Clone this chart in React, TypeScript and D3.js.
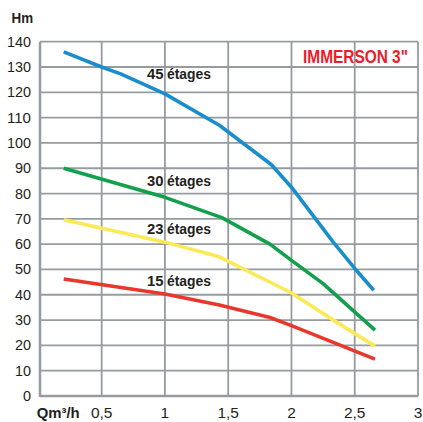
import React from "react";
import * as d3 from "d3";

const xTicks = [0.5, 1, 1.5, 2, 2.5, 3];
const xTickLabels = ["0,5", "1", "1,5", "2", "2,5", "3"];
const yTicks = [0, 10, 20, 30, 40, 50, 60, 70, 80, 90, 100, 110, 120, 130, 140];

const series45 = [[0.2, 136], [0.5, 130], [0.65, 127.3], [1.0, 119.4], [1.43, 107], [1.84, 91.5], [2.0, 82.5], [2.18, 70.7], [2.33, 60.8], [2.5, 50.4], [2.65, 41.8]];
const series30 = [[0.2, 90], [1.0, 78.5], [1.45, 70.5], [1.83, 60], [2.0, 53.6], [2.25, 44.4], [2.66, 26]];
const series23 = [[0.2, 69.6], [1.0, 60.8], [1.43, 55], [1.99, 41], [2.33, 30], [2.66, 19.7]];
const series15 = [[0.2, 46.2], [1.0, 40.3], [1.43, 36], [1.83, 31], [1.99, 28], [2.66, 14.6]];

const seriesNames = ["45", "30", "23", "15"];
const seriesColors = ["#1a8dcb", "#12a04c", "#fbea55", "#e8372c"];
const seriesData = [series45, series30, series23, series15];
const labelY = [125.4, 82.8, 64.2, 43.4];

const W = 423, H = 422;
const left = 40, right = 418, top = 41.7, bottom = 396;
const font = "'Liberation Sans', Arial, sans-serif";

export default function App() {
  const x = d3.scaleLinear().domain([0, 3]).range([38.4, right]);
  const y = d3.scaleLinear().domain([0, 140]).range([bottom, top]);
  const line = d3.line<number[]>().x(d => x(d[0])).y(d => y(d[1]));
  const grid = "#969ba0";
  return (
    <svg width={W} height={H} style={{ position: "absolute", left: 0, top: 0, background: "#fff" }}>
      {yTicks.map(t => (
        <line key={"gy" + t} x1={left} x2={right} y1={y(t)} y2={y(t)} stroke={grid} strokeWidth={t === 0 ? 2.5 : 1.8} />
      ))}
      {xTicks.map(t => (
        <line key={"gx" + t} x1={x(t)} x2={x(t)} y1={top} y2={bottom} stroke={grid} strokeWidth={1.8} />
      ))}
      <line x1={left} x2={left} y1={top} y2={bottom + 1} stroke={grid} strokeWidth={2.5} />
      {yTicks.map(t => (
        <text key={"ty" + t} x={31} y={y(t) + 5} textAnchor="end" fontFamily={font} fontSize={15.5} fill="#231f20" textLength={String(t).length * 8} lengthAdjust="spacingAndGlyphs">{t}</text>
      ))}
      {xTicks.map((t, i) => (
        <text key={"tx" + t} x={x(t)} y={417.5} textAnchor="middle" fontFamily={font} fontSize={15.5} fill="#231f20">{xTickLabels[i]}</text>
      ))}
      <text x={11.5} y={22.7} fontFamily={font} fontSize={14} fontWeight="bold" fill="#231f20" textLength={21.6} lengthAdjust="spacingAndGlyphs">Hm</text>
      <text x={36.7} y={417.5} fontFamily={font} fontSize={14.5} fontWeight="bold" fill="#231f20" textLength={43} lengthAdjust="spacingAndGlyphs">Qm³/h</text>
      <text x={303} y={62.5} fontFamily={font} fontSize={18.5} fontWeight="bold" fill="#ec1c2a" textLength={105} lengthAdjust="spacingAndGlyphs">IMMERSON 3"</text>
      {seriesData.map((s, i) => (
        <path key={"s" + i} d={line(s as number[][]) || ""} fill="none" stroke={seriesColors[i]} strokeWidth={3.6} strokeLinejoin="round" />
      ))}
      {seriesNames.map((n, i) => (
        <g key={"l" + n}>
          <text x={x(1) - 1.5} y={y(labelY[i])} textAnchor="end" fontFamily={font} fontSize={14.5} fontWeight="bold" fill="#231f20" textLength={16.5} lengthAdjust="spacingAndGlyphs">{n}</text>
          <text x={x(1) + 2} y={y(labelY[i])} textAnchor="start" fontFamily={font} fontSize={14.5} fontWeight="bold" fill="#231f20" textLength={44} lengthAdjust="spacingAndGlyphs">étages</text>
        </g>
      ))}
    </svg>
  );
}
